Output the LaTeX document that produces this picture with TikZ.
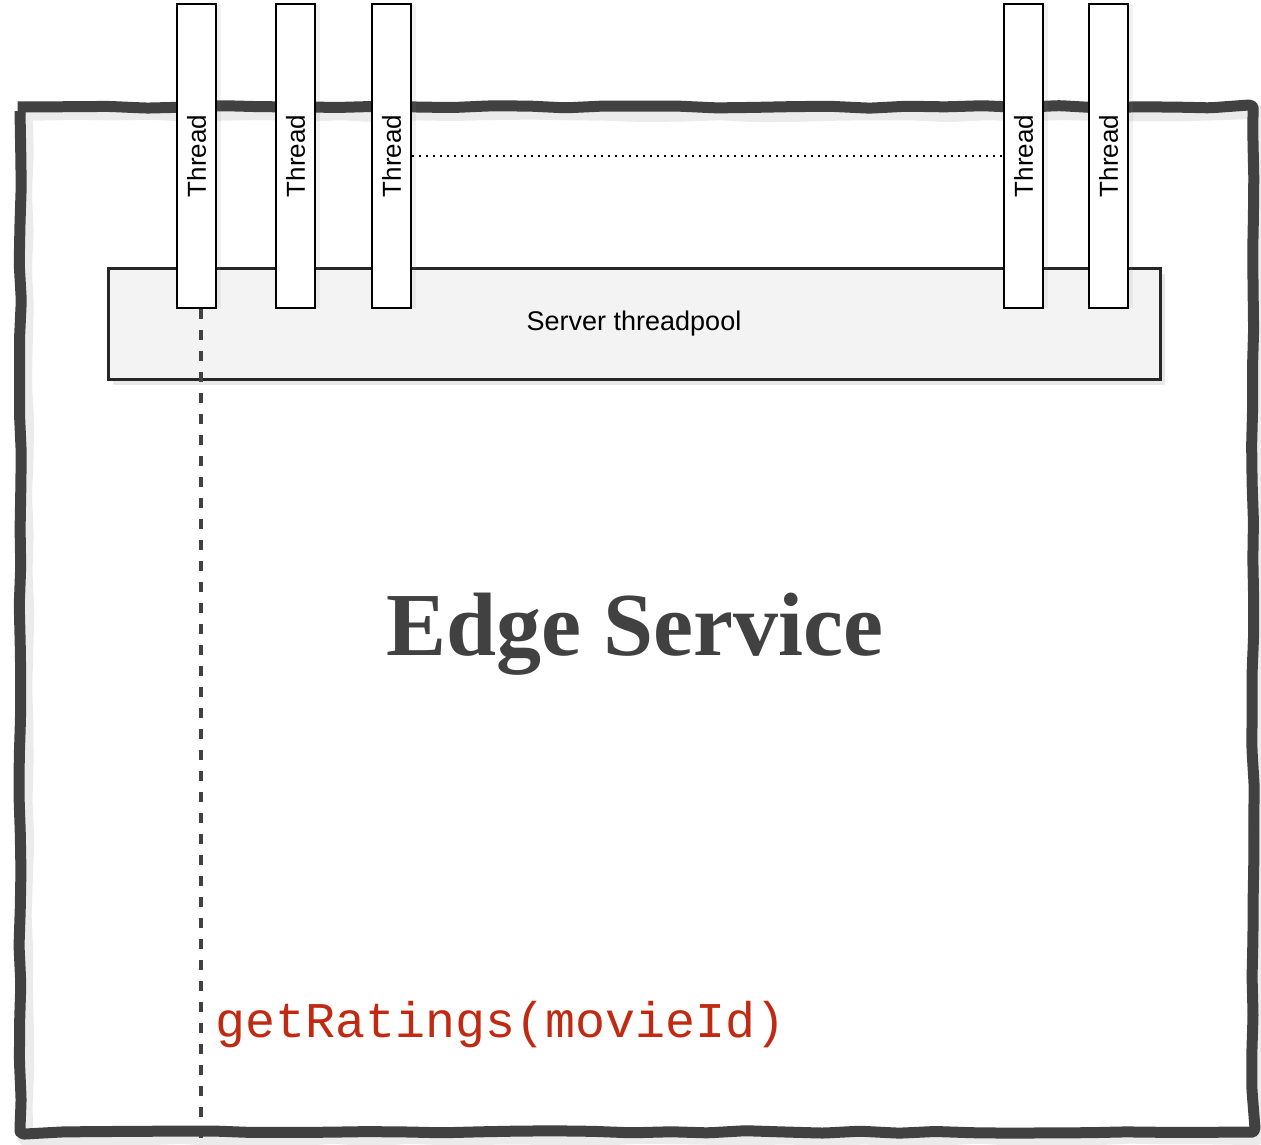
\documentclass[tikz,border=0pt]{standalone}
\usepackage{fontspec}
\setmainfont{Liberation Sans}
\setmonofont{Liberation Mono}
\newfontfamily\edgefont{Liberation Serif}
\usepackage{tikz}
\usetikzlibrary{decorations.pathmorphing,shadows}
\definecolor{gray750}{HTML}{414141}
\definecolor{gray100}{HTML}{F3F3F3}
\definecolor{red700}{HTML}{C02A12}
\tikzstyle{wall}=[draw=gray750, line width=11pt, line join=round, rounded corners=4pt, decorate, decoration={random steps, segment length=38pt, amplitude=1.4pt}]
\tikzstyle{thread}=[rectangle, draw=black, fill=white, line width=2pt, minimum width=39pt, minimum height=304pt, inner sep=0pt, drop shadow={shadow xshift=5pt, shadow yshift=0pt, opacity=0.1}, font=\fontsize{26}{30}\selectfont]
\tikzstyle{pool}=[rectangle, draw=black!85, fill=gray100, line width=3pt, minimum width=1052pt, minimum height=111pt, drop shadow={shadow xshift=5pt, shadow yshift=-6pt, opacity=0.18}, font=\fontsize{27}{32}\selectfont]
\tikzstyle{service}=[inner sep=0pt, anchor=base, text=gray750, font=\edgefont\bfseries\fontsize{90}{100}\selectfont]
\tikzstyle{call}=[inner sep=0pt, anchor=base west, text=red700, font=\ttfamily\fontsize{50}{56}\selectfont]

\begin{document}
\begin{tikzpicture}[x=1pt, y=-1pt]
			\useasboundingbox (0,0) rectangle (1261,1145);
			\draw[wall, draw=black!8, line width=16pt] (25,113) rectangle (1257,1137);
			\draw[wall] (20,107) rectangle (1253,1132);
			\node[pool] (pool) at (634,323.5) {Server threadpool};
			\node[thread] (t1) at (196.5,156) {\rotatebox{90}{Thread}};
			\node[thread] (t2) at (295.5,156) {\rotatebox{90}{Thread}};
			\node[thread] (t3) at (391.5,156) {\rotatebox{90}{Thread}};
			\node[thread] (t4) at (1023.5,156) {\rotatebox{90}{Thread}};
			\node[thread] (t5) at (1108.5,156) {\rotatebox{90}{Thread}};
			\coordinate (bot) at (200.5,1145);
			\path[draw=black, line width=1.3pt, dash pattern=on 2pt off 5pt] (t3.east) -- (t4.west);
			\path[draw=gray750, line width=4pt, dash pattern=on 10pt off 11pt] (t1.south -| bot) -- (bot);
			\node[service] (edge) at (635,655) {Edge Service};
			\node[call] (rating) at (215,1037) {getRatings(movieId)};
		\end{tikzpicture}
\end{document}
